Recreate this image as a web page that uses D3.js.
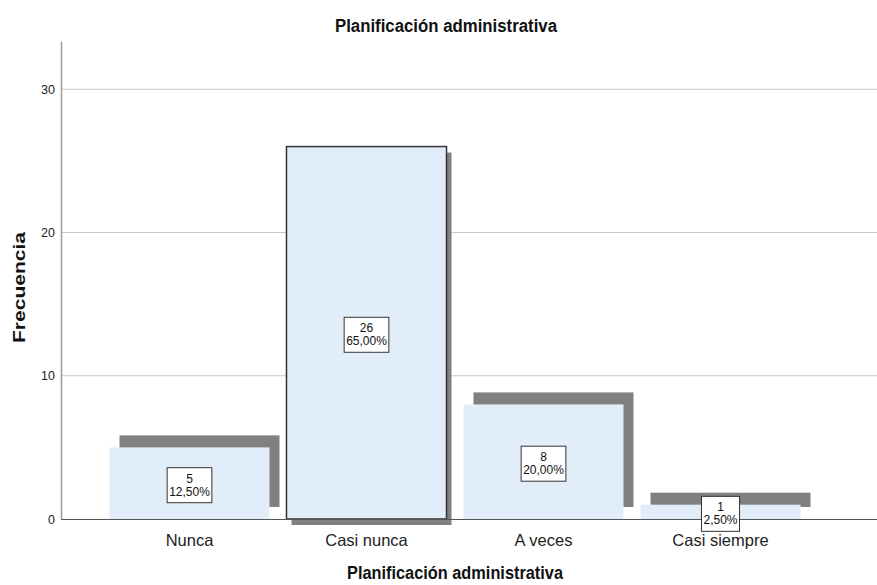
<!DOCTYPE html>
<html>
<head>
<meta charset="utf-8">
<script src="https://cdn.jsdelivr.net/npm/d3@7/dist/d3.min.js"></script>
<style>
  html, body { margin: 0; padding: 0; background: #fff; }
  svg { display: block; font-family: "Liberation Sans", Arial, sans-serif; }
</style>
</head>
<body>
<svg id="chart" width="877" height="585"></svg>
<script>
// ---- data ----
const categories = ["Nunca", "Casi nunca", "A veces", "Casi siempre"];
const frequencies = [5, 26, 8, 1];
const percentLabels = ["12,50%", "65,00%", "20,00%", "2,50%"];
const yTicks = [0, 10, 20, 30];
const chartTitle = "Planificación administrativa";
const xTitle = "Planificación administrativa";
const yTitle = "Frecuencia";
const selectedCategory = "Casi nunca";

// ---- layout / style ----
const W = 877, H = 585;
const plot = { left: 61, right: 877, top: 42, bottom: 519 };
const barFill = "#e2edfa";
const shadowFill = "#808080";

const svg = d3.select("#chart");

const x = d3.scaleBand()
  .domain(categories)
  .range([101, 809])
  .paddingInner(0.096)
  .paddingOuter(0.048);

const y = d3.scaleLinear()
  .domain([0, 33.3])
  .range([plot.bottom, plot.top]);

// gridlines
svg.append("g")
  .selectAll("line")
  .data(yTicks.filter(d => d > 0))
  .join("line")
  .attr("x1", plot.left).attr("x2", plot.right)
  .attr("y1", d => y(d)).attr("y2", d => y(d))
  .attr("stroke", "#c8c8c8").attr("stroke-width", 1);

// y axis
const yAxis = svg.append("g")
  .attr("transform", `translate(${plot.left},0)`)
  .call(d3.axisLeft(y).tickValues(yTicks).tickSize(0).tickPadding(6));
yAxis.select(".domain").remove();
yAxis.selectAll("text")
  .attr("font-size", 12.5)
  .attr("fill", "#222")
  .attr("font-family", "Liberation Sans, Arial, sans-serif");
svg.append("line")
  .attr("x1", plot.left + 0.5).attr("x2", plot.left + 0.5)
  .attr("y1", plot.top).attr("y2", plot.bottom)
  .attr("stroke", "#9a9a9a").attr("stroke-width", 1.5);

// shadows
const shadowOffset = d => d === selectedCategory ? { dx: 5, dy: 6 } : { dx: 10, dy: -12 };
const data = categories.map((c, i) => ({ cat: c, v: frequencies[i], pct: percentLabels[i] }));

svg.append("g")
  .selectAll("rect")
  .data(data)
  .join("rect")
  .attr("x", d => x(d.cat) + shadowOffset(d.cat).dx)
  .attr("y", d => y(d.v) + shadowOffset(d.cat).dy)
  .attr("width", x.bandwidth())
  .attr("height", d => y(0) - y(d.v))
  .attr("fill", shadowFill);

// bars
svg.append("g")
  .selectAll("rect")
  .data(data)
  .join("rect")
  .attr("x", d => x(d.cat))
  .attr("y", d => y(d.v))
  .attr("width", x.bandwidth())
  .attr("height", d => y(0) - y(d.v))
  .attr("fill", barFill)
  .attr("stroke", d => d.cat === selectedCategory ? "#333" : "none")
  .attr("stroke-width", 1.5);

// x baseline
svg.append("line")
  .attr("x1", plot.left).attr("x2", plot.right)
  .attr("y1", plot.bottom + 0.5).attr("y2", plot.bottom + 0.5)
  .attr("stroke", "#555").attr("stroke-width", 1);

// category labels
svg.append("g")
  .selectAll("text")
  .data(categories)
  .join("text")
  .attr("x", d => x(d) + x.bandwidth() / 2)
  .attr("y", 546)
  .attr("text-anchor", "middle")
  .attr("font-size", 16.5)
  .attr("fill", "#222")
  .text(d => d);

// value label boxes
const lbl = svg.append("g").selectAll("g")
  .data(data)
  .join("g")
  .attr("transform", d => `translate(${x(d.cat) + x.bandwidth() / 2},${y(d.v / 2) + 2})`);

lbl.each(function(d) {
  const g = d3.select(this);
  const rect = g.append("rect");
  const t1 = g.append("text").attr("y", -2.5).attr("text-anchor", "middle")
    .attr("font-size", 12).attr("fill", "#111").text(d.v);
  const t2 = g.append("text").attr("y", 10.5).attr("text-anchor", "middle")
    .attr("font-size", 12).attr("fill", "#111").text(d.pct);
  const w = Math.max(t1.node().getComputedTextLength(), t2.node().getComputedTextLength()) + 4;
  rect.attr("x", -w / 2).attr("y", -17.5).attr("width", w).attr("height", 35)
    .attr("fill", "#fff").attr("stroke", "#333").attr("stroke-width", 1);
});

// titles
svg.append("text")
  .attr("x", 446).attr("y", 32)
  .attr("text-anchor", "middle")
  .attr("font-size", 18).attr("font-weight", "bold").attr("fill", "#111")
  .attr("textLength", 222).attr("lengthAdjust", "spacingAndGlyphs")
  .text(chartTitle);

svg.append("text")
  .attr("x", 455).attr("y", 579)
  .attr("text-anchor", "middle")
  .attr("font-size", 18).attr("font-weight", "bold").attr("fill", "#111")
  .attr("textLength", 216).attr("lengthAdjust", "spacingAndGlyphs")
  .text(xTitle);

svg.append("text")
  .attr("transform", "translate(25,287.5) rotate(-90)")
  .attr("text-anchor", "middle")
  .attr("font-size", 17).attr("font-weight", "bold").attr("fill", "#111")
  .attr("textLength", 111).attr("lengthAdjust", "spacingAndGlyphs")
  .text(yTitle);
</script>
</body>
</html>
